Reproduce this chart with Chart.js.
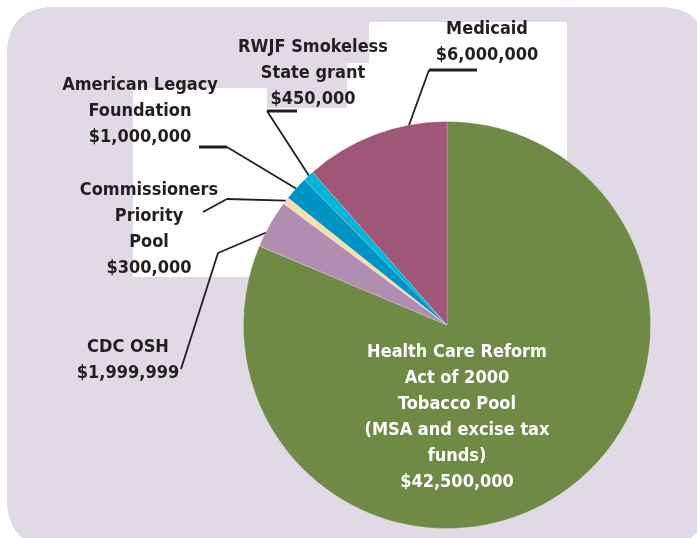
<!DOCTYPE html>
<html>
<head>
<meta charset="utf-8">
<script src="https://cdn.jsdelivr.net/npm/chart.js@4/dist/chart.umd.min.js"></script>
<style>
  html, body { margin: 0; padding: 0; background: #fff; }
  #wrap { width: 697px; height: 538px; position: relative; }
</style>
</head>
<body>
<div id="wrap"><canvas id="pie"></canvas></div>
<script>
// ================= DATA =================
const categories = [
    'Health Care Reform Act of 2000 Tobacco Pool (MSA and excise tax funds)',
    'CDC OSH',
    'Commissioners Priority Pool',
    'American Legacy Foundation',
    'RWJF Smokeless State grant',
    'Medicaid'
];
const values = [42500000, 1999999, 300000, 1000000, 450000, 6000000];
const sliceColors = ['#6f8a44', '#b08db1', '#f8deab', '#0093c4', '#00b4da', '#a05677'];

// label text broken into lines (value is added as last line)
const labelLines = [
    ['Health Care Reform', 'Act of 2000', 'Tobacco Pool', '(MSA and excise tax', 'funds)'],
    ['CDC OSH'],
    ['Commissioners', 'Priority', 'Pool'],
    ['American Legacy', 'Foundation'],
    ['RWJF Smokeless', 'State grant'],
    ['Medicaid']
];

// ================= LAYOUT =================
const FONT = 'bold 18px "Liberation Sans Narrow", "DejaVu Sans Condensed", sans-serif';
const LINE_H = 26;
const labelPos = [
    { x: 457, y: 352, color: '#ffffff' },
    { x: 128, y: 347, color: '#231f20' },
    { x: 149, y: 190, color: '#231f20' },
    { x: 140, y: 85, color: '#231f20' },
    { x: 313, y: 47, color: '#231f20' },
    { x: 487, y: 29, color: '#231f20' }
];
// leader lines: where on the arc they start (fraction of the slice), then bends
const leaders = [
    null,
    { f: 0.3, pts: [[218, 253], [181, 369]] },
    { f: 0.5, pts: [[227, 199], [203, 212]] },
    { f: 0.5, pts: [[227, 147], [199, 147]] },
    { f: 0.55, pts: [[267, 111], [297, 111]] },
    { f: 0.74, pts: [[429, 70], [477, 70]] }
];
// white patches behind the labels (artefacts of the original artwork)
const whitePatches = [
    [133, 88, 134, 20],
    [133, 108, 236, 169],
    [347, 63, 22, 45],
    [369, 22, 198, 169]
];

function fmtMoney(v) {
    return '$' + v.toLocaleString('en-US');
}

function roundRect(ctx, x, y, w, h, r) {
    ctx.beginPath();
    ctx.moveTo(x + r, y);
    ctx.lineTo(x + w - r, y);
    ctx.quadraticCurveTo(x + w, y, x + w, y + r);
    ctx.lineTo(x + w, y + h - r);
    ctx.quadraticCurveTo(x + w, y + h, x + w - r, y + h);
    ctx.lineTo(x + r, y + h);
    ctx.quadraticCurveTo(x, y + h, x, y + h - r);
    ctx.lineTo(x, y + r);
    ctx.quadraticCurveTo(x, y, x + r, y);
    ctx.closePath();
}

const backdrop = {
    id: 'backdrop',
    beforeDraw(chart) {
        const ctx = chart.ctx;
        ctx.save();
        ctx.fillStyle = '#ffffff';
        ctx.fillRect(0, 0, chart.width, chart.height);
        ctx.fillStyle = '#e2d9e6';
        roundRect(ctx, 7, 7, 700, 540, 48);
        ctx.fill();
        ctx.fillStyle = '#ffffff';
        whitePatches.forEach(p => ctx.fillRect(p[0], p[1], p[2], p[3]));
        ctx.restore();
    }
};

const labels = {
    id: 'labels',
    afterDraw(chart) {
        const ctx = chart.ctx;
        const meta = chart.getDatasetMeta(0);
        ctx.save();

        // leader lines
        ctx.strokeStyle = '#231f20';
        ctx.lineCap = 'butt';
        leaders.forEach((ld, i) => {
            if (!ld) return;
            const arc = meta.data[i];
            const p = arc.getProps(['x', 'y', 'startAngle', 'endAngle', 'outerRadius'], true);
            const ang = p.startAngle + ld.f * (p.endAngle - p.startAngle);
            let prev = [p.x + Math.cos(ang) * p.outerRadius, p.y + Math.sin(ang) * p.outerRadius];
            ld.pts.forEach(pt => {
                ctx.beginPath();
                ctx.lineWidth = (pt[1] === prev[1]) ? 3 : 1.8;
                ctx.moveTo(prev[0], prev[1]);
                ctx.lineTo(pt[0], pt[1]);
                ctx.stroke();
                prev = pt;
            });
        });

        // text
        ctx.font = FONT;
        ctx.textAlign = 'center';
        ctx.textBaseline = 'middle';
        labelLines.forEach((lines, i) => {
            const pos = labelPos[i];
            const all = lines.concat([fmtMoney(values[i])]);
            ctx.fillStyle = pos.color;
            all.forEach((t, k) => ctx.fillText(t, pos.x, pos.y + k * LINE_H));
        });
        ctx.restore();
    }
};

// ================= CHART =================
function init() {
    const ctx = document.getElementById('pie').getContext('2d');
    new Chart(ctx, {
        type: 'pie',
        data: {
            labels: categories,
            datasets: [{
                data: values,
                backgroundColor: sliceColors,
                borderColor: 'rgba(255,255,255,0.25)',
                borderWidth: 0.8
            }]
        },
        options: {
            responsive: true,
            maintainAspectRatio: false,
            animation: false,
            rotation: 0,
            layout: { padding: { left: 240, right: 43, top: 121, bottom: 9 } },
            plugins: {
                legend: { display: false },
                tooltip: { enabled: false }
            }
        },
        plugins: [backdrop, labels]
    });
}

window.addEventListener('DOMContentLoaded', init);
</script>
</body>
</html>
